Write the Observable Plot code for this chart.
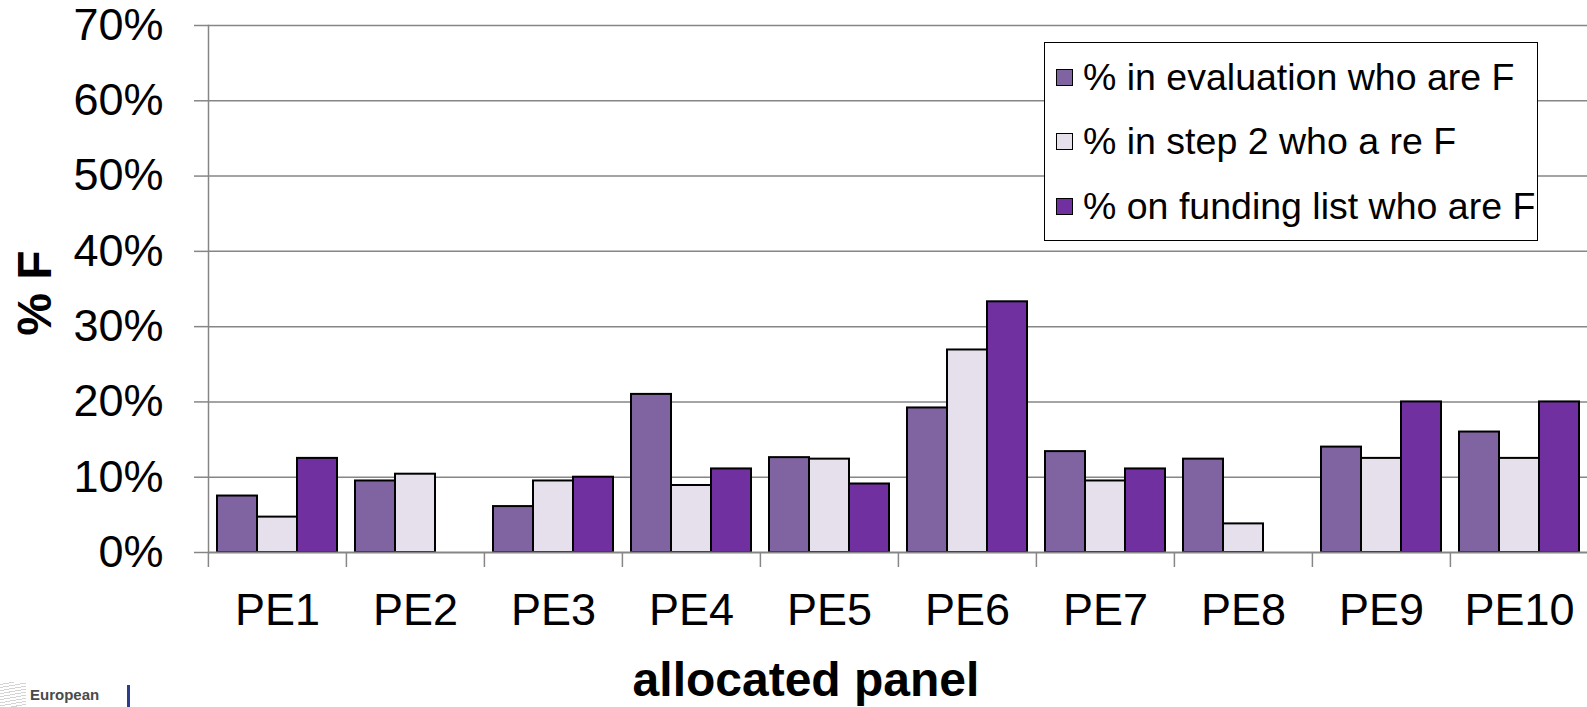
<!DOCTYPE html>
<html>
<head>
<meta charset="utf-8">
<script src="https://cdn.jsdelivr.net/npm/d3@7"></script>
<script src="https://cdn.jsdelivr.net/npm/@observablehq/plot@0.6"></script>
<style>
  html, body { margin: 0; padding: 0; background: #fff; overflow: hidden; }
  #wrap { position: relative; width: 1587px; height: 707px; overflow: hidden;
          font-family: "Liberation Sans", Arial, sans-serif; color: #000; }
  #wrap svg { max-width: none !important; display: block; }
  .ytitle { position: absolute; left: 34.5px; top: 293px; font-weight: bold; font-size: 48px;
            line-height: 48px; white-space: nowrap; transform: translate(-50%, -50%) rotate(-90deg); }
  .xtitle { position: absolute; left: 806px; top: 656px; font-weight: bold; font-size: 48px;
            line-height: 48px; white-space: nowrap; transform: translateX(-50%); }
  .legend { position: absolute; left: 1044px; top: 42px; width: 492px; height: 197px;
            border: 1.5px solid #000; background: #fff; }
  .legend .row { position: absolute; left: 11px; height: 40px; display: flex; align-items: center;
                 font-size: 37.5px; white-space: nowrap; transform: translateY(-50%); }
  .legend .sw { width: 15px; height: 15px; border: 1.5px solid #000; margin-right: 10px; flex: none; }
  .logo-lines { position: absolute; left: 0; top: 682px; width: 26px; height: 25px;
                background: repeating-linear-gradient(170deg, #fff 0 2px, #c9c9c9 2px 3px); opacity: .8; }
  .logo-text { position: absolute; left: 30px; top: 686px; font-size: 15px; font-weight: bold; color: #4a4a4a; }
  .logo-bar { position: absolute; left: 127px; top: 685px; width: 3px; height: 22px; background: #2a3d8f; }
</style>
</head>
<body>
<div id="wrap"></div>
<script>
const categories = ["PE1", "PE2", "PE3", "PE4", "PE5", "PE6", "PE7", "PE8", "PE9", "PE10"];
const seriesNames = ["% in evaluation who are F", "% in step 2 who a re F", "% on funding list who are F"];
const evaluation = [7.5, 9.5, 6.1, 21.0, 12.6, 19.2, 13.4, 12.4, 14.0, 16.0];
const step2 = [4.7, 10.4, 9.5, 8.9, 12.4, 26.9, 9.5, 3.8, 12.5, 12.5];
const funding = [12.5, null, 10.0, 11.1, 9.1, 33.3, 11.1, null, 20.0, 20.0];
const yTicks = [0, 10, 20, 30, 40, 50, 60, 70];
const seriesColors = ["#8064A2", "#E6E0EC", "#7030A0"];
const yTitle = "% F";
const xTitle = "allocated panel";

const seriesValues = [evaluation, step2, funding];
const table = [];
categories.forEach((c, i) => {
  seriesNames.forEach((s, j) => {
    const v = seriesValues[j][i];
    if (v != null) table.push({category: c, series: s, value: v});
  });
});

const W = 1589, H = 707, mL = 207, mT = 25, mB = 155;
const step = (W - mL) / categories.length;
const grid = "#868686";

const chart = Plot.plot({
  width: W, height: H,
  marginLeft: mL, marginRight: 0, marginTop: mT, marginBottom: mB,
  style: {fontFamily: "'Liberation Sans', Arial, sans-serif", fontSize: "45px", color: "black", background: "white", maxWidth: "none"},
  fx: {domain: categories, padding: 0, label: null},
  x: {domain: seriesNames, paddingInner: 0, paddingOuter: 0.185, axis: null},
  y: {domain: [0, 70], label: null},
  color: {domain: seriesNames, range: seriesColors},
  marks: [
    Plot.ruleY(yTicks.filter(t => t > 0), {stroke: grid, strokeWidth: 1.5}),
    Plot.barY(table, {fx: "category", x: "series", y: "value", fill: "series", stroke: "black", strokeWidth: 2}),
    Plot.ruleY([0], {stroke: grid, strokeWidth: 2}),
    Plot.frame({anchor: "left", facetAnchor: "left", stroke: grid, strokeWidth: 1.5}),
    Plot.axisY({ticks: yTicks, tickFormat: d => d + "%", tickSize: 14, tickPadding: 31,
                stroke: grid, strokeWidth: 1.5, fontSize: 45, label: null}),
    Plot.axisFx({anchor: "bottom", tickSize: 15, tickFormat: () => "", dx: -step / 2,
                 stroke: grid, strokeWidth: 1.5, label: null}),
    Plot.axisFx({anchor: "bottom", tickSize: 0, tickPadding: 41, fontSize: 45, label: null})
  ]
});

const wrap = document.getElementById("wrap");
wrap.appendChild(chart);

// axis titles
const yt = document.createElement("div");
yt.className = "ytitle"; yt.textContent = yTitle; wrap.appendChild(yt);
const xt = document.createElement("div");
xt.className = "xtitle"; xt.textContent = xTitle; wrap.appendChild(xt);

// legend
const legend = document.createElement("div");
legend.className = "legend";
const color = chart.scale("color");
const rowCenters = [34, 98, 163];
seriesNames.forEach((s, j) => {
  const row = document.createElement("div");
  row.className = "row";
  row.style.top = rowCenters[j] + "px";
  const sw = document.createElement("span");
  sw.className = "sw";
  sw.style.background = color.apply(s);
  const label = document.createElement("span");
  label.textContent = s;
  row.appendChild(sw); row.appendChild(label);
  legend.appendChild(row);
});
wrap.appendChild(legend);

// logo fragment
const ll = document.createElement("div"); ll.className = "logo-lines"; wrap.appendChild(ll);
const lt = document.createElement("div"); lt.className = "logo-text"; lt.textContent = "European"; wrap.appendChild(lt);
const lb = document.createElement("div"); lb.className = "logo-bar"; wrap.appendChild(lb);
</script>
</body>
</html>
